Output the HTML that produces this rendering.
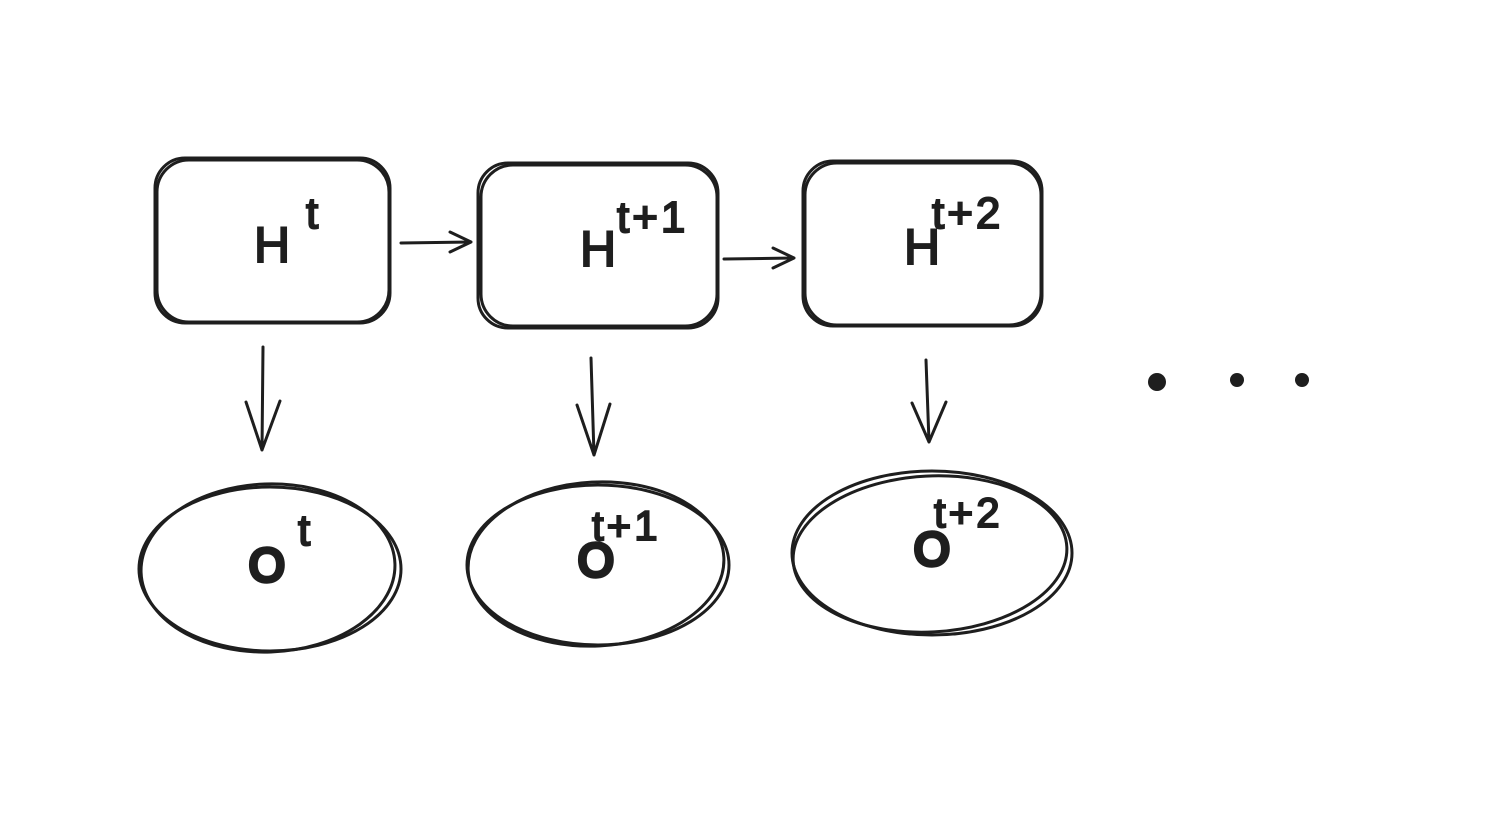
<!DOCTYPE html>
<html><head><meta charset="utf-8"><style>
html,body{margin:0;padding:0;background:#fff;}
svg{display:block}
text{font-family:"Liberation Sans",sans-serif;fill:#1e1e1e;stroke:#1e1e1e;stroke-width:2}
text.o{fill:none;stroke-width:4.5}
</style></head><body>
<svg width="1498" height="816" viewBox="0 0 1498 816" xmlns="http://www.w3.org/2000/svg">
<g fill="none" stroke="#1e1e1e" stroke-width="3" stroke-linecap="round" stroke-linejoin="round">
<rect x="155" y="158" width="235" height="165" rx="30"/>
<rect x="157" y="160" width="232" height="162" rx="32"/>
<rect x="478" y="163" width="240" height="165" rx="30"/>
<rect x="481" y="165" width="236" height="161" rx="32"/>
<rect x="803" y="161" width="239" height="165" rx="30"/>
<rect x="805" y="163" width="236" height="162" rx="32"/>
<path d="M401 243 L471 242 M450 232 L471 242 L450 252"/>
<path d="M724 259 L794 258 M773 248 L794 258 L773 268"/>
<path d="M263 347 L262 450 M246 402 L262 450 L280 401"/>
<path d="M591 358 L594 455 M577 405 L594 455 L610 404"/>
<path d="M926 360 L929 442 M912 403 L929 442 L946 402"/>
<ellipse cx="270" cy="569" rx="131" ry="82"/>
<ellipse cx="268" cy="568" rx="127" ry="84" transform="rotate(-2 268 568)"/>
<ellipse cx="598" cy="565" rx="131" ry="80"/>
<ellipse cx="596" cy="564" rx="128" ry="82" transform="rotate(-3 596 564)"/>
<ellipse cx="932" cy="553" rx="140" ry="82"/>
<ellipse cx="930" cy="554" rx="137" ry="78" transform="rotate(-3 930 554)"/>
</g>
<circle cx="1157" cy="382" r="9" fill="#1e1e1e"/>
<circle cx="1237" cy="380" r="7" fill="#1e1e1e"/>
<circle cx="1302" cy="380" r="7" fill="#1e1e1e"/>
<text x="254" y="262" font-size="50">H</text>
<text x="306" y="228" font-size="44">t</text>
<text x="580" y="266" font-size="50">H</text>
<text x="617" y="232" font-size="44" letter-spacing="3">t+1</text>
<text x="904" y="264" font-size="50">H</text>
<text x="932" y="228" font-size="44" letter-spacing="3">t+2</text>
<text class="o" x="249" y="581" font-size="46">O</text>
<text class="o" x="578" y="576" font-size="46">O</text>
<text class="o" x="914" y="565" font-size="46">O</text>
<text x="298" y="545" font-size="44">t</text>
<text x="592" y="540" font-size="42" letter-spacing="3">t+1</text>
<text x="934" y="527" font-size="42" letter-spacing="3">t+2</text>
</svg>
</body></html>
